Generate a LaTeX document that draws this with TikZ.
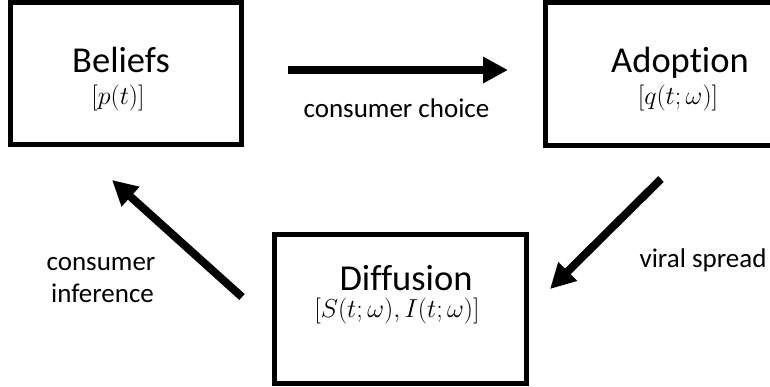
\RequirePackage{fix-cm}
\documentclass[tikz,border=0pt]{standalone}
\usepackage{fontspec}
\setmainfont[Ligatures=NoCommon]{Carlito}
\usetikzlibrary{arrows.meta}
\tikzset{
  box/.style={draw=black, line width=5pt, rectangle, inner sep=0pt},
  title/.style={anchor=base, inner sep=0pt, font=\fontsize{36.5}{44}\selectfont},
  formula/.style={anchor=base, inner sep=0pt, font=\fontsize{26}{31}\selectfont},
  lbl/.style={anchor=base, inner sep=0pt, font=\fontsize{27}{32}\selectfont},
  bigarrow/.style={line width=8pt, -{Triangle[length=25pt,width=25pt]}}
}
\begin{document}
\begin{tikzpicture}[x=1pt,y=-1pt]
\useasboundingbox (0,0) rectangle (770,386);
\clip (0,0) rectangle (770,386);
\fill[white] (0,0) rectangle (770,386);
% boxes
\node[box, minimum width=231.5pt, minimum height=142pt] (beliefs) at (125.75,73.5) {};
\node[box, minimum width=269.5pt, minimum height=142.5pt] (adoption) at (680.25,73.75) {};
\node[box, minimum width=251.5pt, minimum height=149pt] (diffusion) at (400.25,308.5) {};
% box texts
\node[title] (beliefsT) at (121,72) {Beliefs};
\node[formula] (beliefsF) at (118,104) {$[p(t)]$};
\node[title] (adoptionT) at (680,72) {Adoption};
\node[formula] (adoptionF) at (678,104) {$[q(t;\omega)]$};
\node[title] (diffusionT) at (406,290) {Diffusion};
\node[formula] (diffusionF) at (397,317) {$[S(t;\omega),I(t;\omega)]$};
% arrow end points
\coordinate (a1s) at (288,70);
\coordinate (a1e) at (508,70);
\coordinate (a2s) at (661,179);
\coordinate (a2e) at (550,289);
\coordinate (a3s) at (242,297);
\coordinate (a3e) at (112,180);
\draw[bigarrow] (a1s) -- (a1e);
\draw[bigarrow] (a2s) -- (a2e);
\draw[bigarrow] (a3s) -- (a3e);
% labels
\node[lbl] (choice) at (396.5,117) {consumer choice};
\node[lbl] (viral) at (703,267) {viral spread};
\node[lbl] (infer1) at (101,270) {consumer};
\node[lbl] (infer2) at (102.5,302) {inference};
\end{tikzpicture}
\end{document}
